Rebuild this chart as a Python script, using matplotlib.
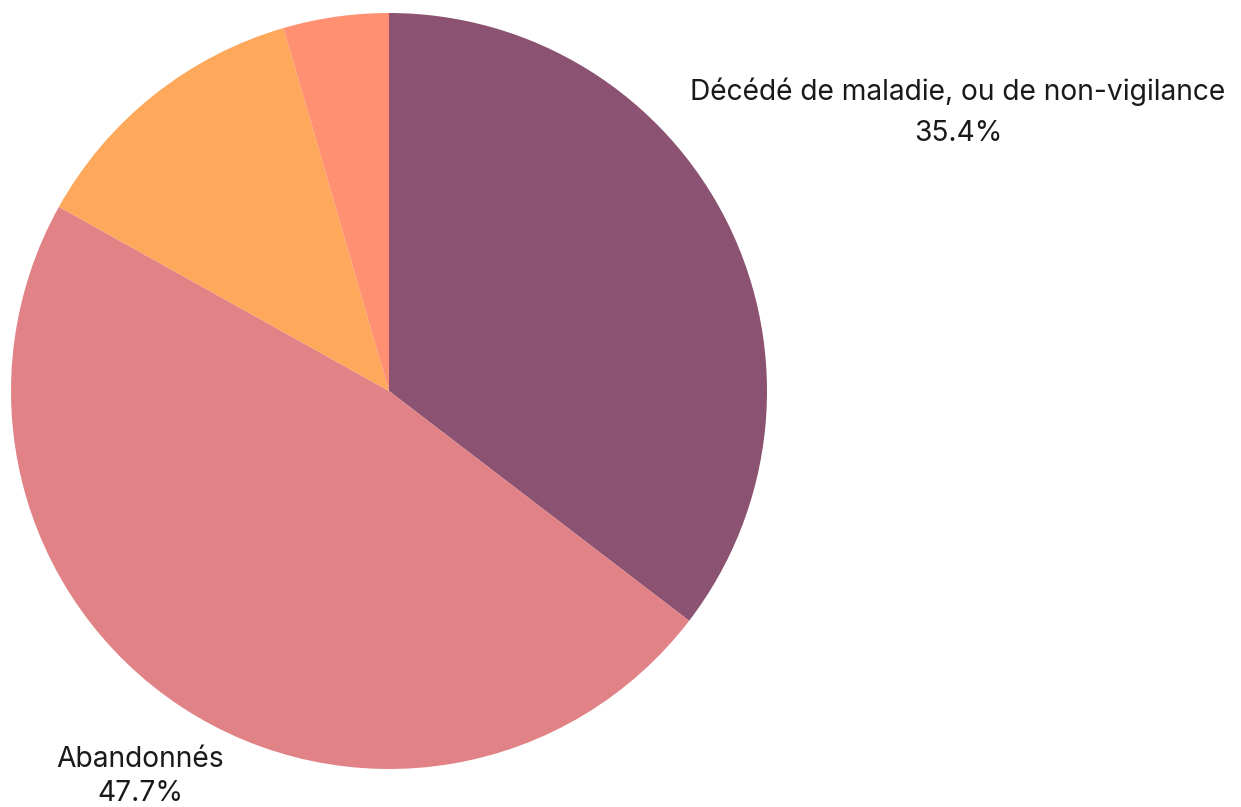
import matplotlib
matplotlib.use("Agg")
import matplotlib.pyplot as plt

categories = ["Décédé de maladie, ou de non-vigilance", "Abandonnés", "Autre 1", "Autre 2"]
values = [35.4, 47.7, 12.4, 4.5]
colors = ["#8B5271", "#E18386", "#FDA85A", "#FF9172"]
show_label = [True, True, False, False]

plt.rcParams['font.family'] = ['Inter', 'DejaVu Sans']

W, H = 1241, 807
fig = plt.figure(figsize=(W / 100, H / 100), dpi=100)
cx, cy, r = 389, 391, 378
ax = fig.add_axes([(cx - r) / W, (H - cy - r) / H, 2 * r / W, 2 * r / H])
wedges, _ = ax.pie(values, colors=colors, startangle=90, counterclock=False,
                   radius=1.0, wedgeprops=dict(linewidth=0))
ax.set_xlim(-1, 1)
ax.set_ylim(-1, 1)
ax.set_aspect('equal')
ax.axis('off')

label_pos = {0: (1.505, 0.792, 0.680), 1: (-0.659, -0.974, -1.064)}
for i, (cat, v) in enumerate(zip(categories, values)):
    if not show_label[i]:
        continue
    x, y1, y2 = label_pos[i]
    ax.text(x, y1, cat, ha='center', va='center', fontsize=20.3, color='#1a1a1a', clip_on=False)
    ax.text(x, y2, f"{v:.1f}%", ha='center', va='center', fontsize=20.3, color='#1a1a1a', clip_on=False)

fig.savefig("out.png", dpi=100, facecolor='white')
